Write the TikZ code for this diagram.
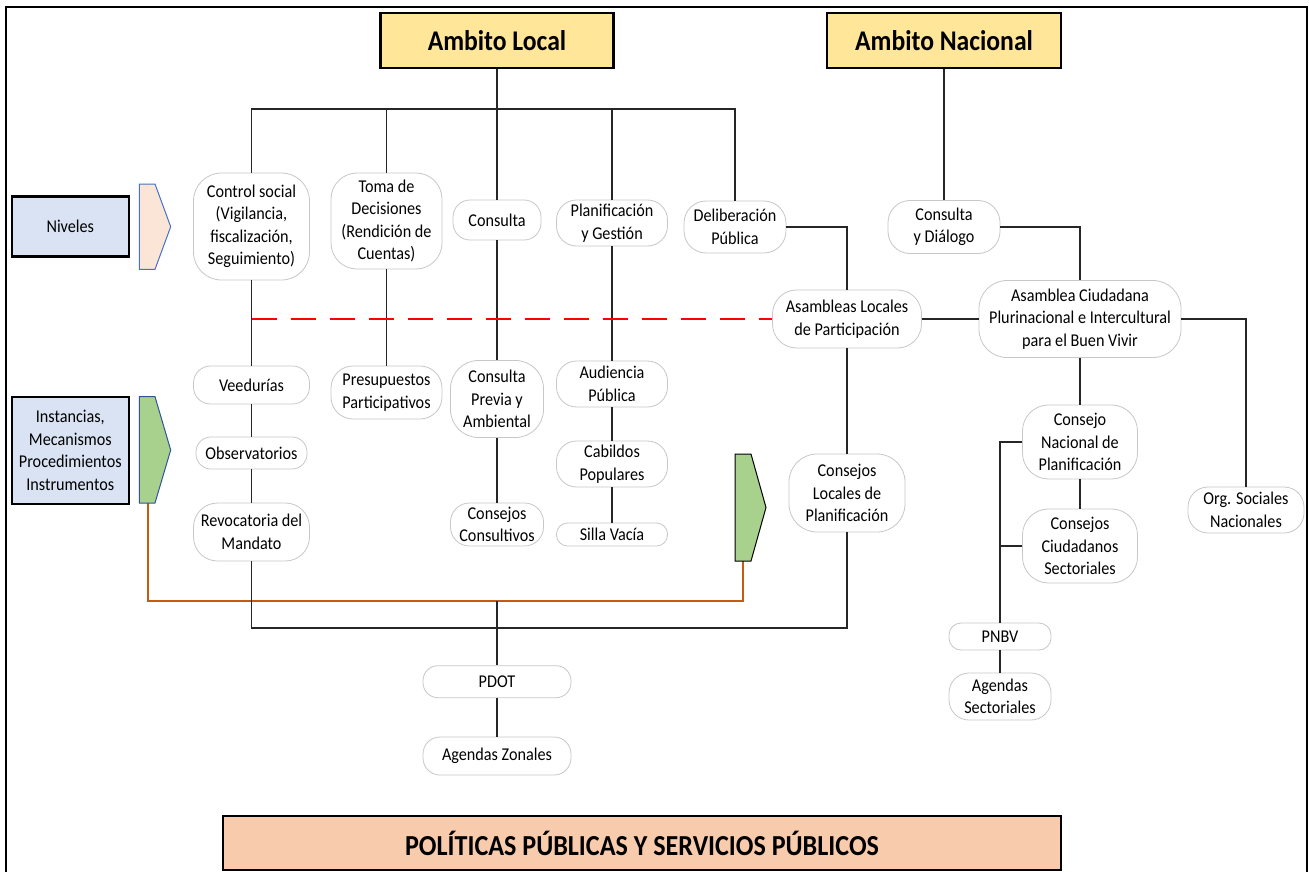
\documentclass[tikz,border=0pt]{standalone}
\usepackage{fontspec}
\setmainfont[FakeStretch=0.9]{Carlito}
\definecolor{ttl}{HTML}{FFE699}
\definecolor{lblue}{HTML}{DAE3F3}
\definecolor{peach}{HTML}{FBE5D6}
\definecolor{lgreen}{HTML}{A9D18E}
\definecolor{salmon}{HTML}{F8CBAD}
\definecolor{orng}{HTML}{C55A11}
\definecolor{bblue}{HTML}{4472C4}
\definecolor{dblue}{HTML}{2F5597}
\tikzset{
  rb/.style={draw=black!22, line width=0.8pt, fill=white, rounded corners=#1, inner sep=0pt, align=center, font=\fontsize{18}{22.5}\selectfont},
  rb/.default=14pt,
  titlebox/.style={draw=black, line width=2.5pt, fill=ttl, inner sep=0pt, font=\fontsize{28.5}{32}\selectfont\bfseries},
  sidebox/.style={draw=black, line width=2.5pt, fill=lblue, inner sep=0pt, align=center, minimum width=117pt, font=\fontsize{18}{22.5}\selectfont},
  conn/.style={draw=black!85, line width=1.2pt},
  redline/.style={draw=red, line width=1.8pt, dash pattern=on 25pt off 14pt},
  orline/.style={draw=orng, line width=2pt},
}
\begin{document}
\begin{tikzpicture}[x=1pt,y=-1pt]
\useasboundingbox (0,0) rectangle (1309,872);
% frame
\draw[line width=2pt] (6,880) -- (6,7) -- (1307,7) -- (1307,880);

% titles
\node[titlebox, minimum width=233pt, minimum height=55pt] (aL) at (497,40.5) {Ambito Local};
\node[titlebox, minimum width=234pt, minimum height=55pt] (aN) at (944,40.5) {Ambito Nacional};

% side boxes
\node[sidebox, minimum height=60pt] (niv) at (70.3,226.7) {Niveles};
\node[sidebox, minimum height=107pt] (ins) at (70.3,450.3) {Instancias,\\Mecanismos\\Procedimientos\\Instrumentos};

% orange connector (drawn first, under the pentagons)
\coordinate (g1b) at (148,503);
\coordinate (g2b) at (743,561);
\coordinate (oy) at (0,601);
\coordinate (bt) at (0,109);
\coordinate (bb) at (0,628);
\draw[orline] (g2b) -- (g2b |- oy) -- (g1b |- oy) -- (g1b);

% pentagons
\draw[fill=peach, draw=bblue, line width=1pt] (139.3,184) -- (155,184) -- (170.7,226.7) -- (155,269.3) -- (139.3,269.3) -- cycle;
\draw[fill=lgreen, draw=dblue, line width=1pt] (139.3,396.7) -- (155,396.7) -- (170.7,450) -- (155,503) -- (139.3,503) -- cycle;
\draw[fill=lgreen, draw=black, line width=1pt] (735,454) -- (751,454) -- (766,507.5) -- (751,561) -- (735,561) -- cycle;

% local level nodes
\node[rb=28pt, minimum width=116pt, minimum height=107pt] (cs) at (251.5,226.5) {Control social\\(Vigilancia,\\fiscalización,\\Seguimiento)};
\node[rb=26pt, minimum width=111pt, minimum height=96pt] (td) at (386.5,221) {Toma de\\Decisiones\\(Rendición de\\Cuentas)};
\node[rb=17pt, minimum width=88pt, minimum height=40pt] (co) at (497,220) {Consulta};
\node[rb=20pt, minimum width=111pt, minimum height=46pt] (pg) at (612,223) {Planificación\\y Gestión};
\node[rb=22pt, minimum width=102pt, minimum height=52pt] (dp) at (735,227) {Deliberación\\Pública};
\node[rb=22pt, minimum width=112pt, minimum height=53pt] (cd) at (944,227) {Consulta\\y Diálogo};
\node[rb=24pt, minimum width=149pt, minimum height=58pt] (al) at (847,319) {Asambleas Locales\\de Participación};
\node[rb=28pt, minimum width=202pt, minimum height=77pt] (ac) at (1080,319) {Asamblea Ciudadana\\Plurinacional e Intercultural\\para el Buen Vivir};
\node[rb=20pt, minimum width=116pt, minimum height=46pt] (os) at (1246,510) {Org. Sociales\\Nacionales};
\node[rb=26pt, minimum width=115pt, minimum height=74pt] (cn) at (1080,442) {Consejo\\Nacional de\\Planificación};
\node[rb=26pt, minimum width=115pt, minimum height=74pt] (cc) at (1080,546) {Consejos\\Ciudadanos\\Sectoriales};
\node[rb=12pt, minimum width=102pt, minimum height=27pt] (pnbv) at (1000,636.5) {PNBV};
\node[rb=20pt, minimum width=102pt, minimum height=47pt] (ags) at (1000,696.5) {Agendas\\Sectoriales};

\node[rb=17pt, minimum width=116pt, minimum height=38pt] (ve) at (251.5,385) {Veedurías};
\node[rb=15pt, minimum width=111pt, minimum height=32pt] (ob) at (251.5,453) {Observatorios};
\node[rb=24pt, minimum width=116pt, minimum height=58pt] (rm) at (251.5,532) {Revocatoria del\\Mandato};
\node[rb=22pt, minimum width=111pt, minimum height=53pt] (pp) at (386.5,392.5) {Presupuestos\\Participativos};
\node[rb=28pt, minimum width=93pt, minimum height=77pt] (cpa) at (497,399) {Consulta\\Previa y\\Ambiental};
\node[rb=19pt, minimum width=93pt, minimum height=43pt] (ccn) at (497,524.5) {Consejos\\Consultivos};
\node[rb=20pt, minimum width=111pt, minimum height=46pt] (ap) at (612,384) {Audiencia\\Pública};
\node[rb=20pt, minimum width=111pt, minimum height=46pt] (cp) at (612,464) {Cabildos\\Populares};
\node[rb=11pt, minimum width=111pt, minimum height=23pt] (sv) at (612,534.5) {Silla Vacía};
\node[rb=28pt, minimum width=116pt, minimum height=78pt] (cl) at (847,493) {Consejos\\Locales de\\Planificación};
\node[rb=15pt, minimum width=148pt, minimum height=32pt] (pdot) at (497,681.7) {PDOT};
\node[rb=17pt, minimum width=148pt, minimum height=38pt] (az) at (497,756) {Agendas Zonales};

% bottom box
\node[draw=black, line width=2.5pt, fill=salmon, minimum width=838pt, minimum height=54pt, inner sep=0pt, font=\fontsize{29}{33}\selectfont\bfseries] (pb) at (642,843) {POLÍTICAS PÚBLICAS Y SERVICIOS PÚBLICOS};

% connectors local
\draw[conn] (aL.south) -- (aL.south |- bt);
\draw[conn] (cs.north) -- (cs.north |- bt) -- (dp.north |- bt) -- (dp.north);
\draw[conn] (td.north) -- (td.north |- bt);
\draw[conn] (co.north) -- (co.north |- bt);
\draw[conn] (pg.north) -- (pg.north |- bt);
\draw[conn] (cs.south) -- (ve.north);
\draw[conn] (ve.south) -- (ob.north);
\draw[conn] (ob.south) -- (rm.north);
\draw[conn] (td.south) -- (pp.north);
\draw[conn] (co.south) -- (cpa.north);
\draw[conn] (cpa.south) -- (ccn.north);
\draw[conn] (pg.south) -- (ap.north);
\draw[conn] (ap.south) -- (cp.north);
\draw[conn] (cp.south) -- (sv.north);
\draw[conn] (dp.east) -| (al.north);
\draw[conn] (al.south) -- (cl.north);
\draw[conn] (rm.south) -- (rm.south |- bb) -- (cl.south |- bb) -- (cl.south);
\draw[conn] (pdot.north |- oy) -- (pdot.north);
\draw[conn] (pdot.south) -- (az.north);

% connectors national
\draw[conn] (aN.south) -- (cd.north);
\draw[conn] (cd.east) -| (ac.north);
\draw[conn] (al.east) -- (ac.west);
\draw[conn] (ac.east) -| (os.north);
\draw[conn] (ac.south) -- (cn.north);
\draw[conn] (cn.south) -- (cc.north);
\draw[conn] (cn.west) -| (pnbv.north);
\draw[conn] (cc.west) -- (cc.west -| pnbv.north);
\draw[conn] (pnbv.south) -- (ags.north);

% red dashed
\draw[redline] (cs.south |- al.west) -- (al.west);
\end{tikzpicture}
\end{document}
